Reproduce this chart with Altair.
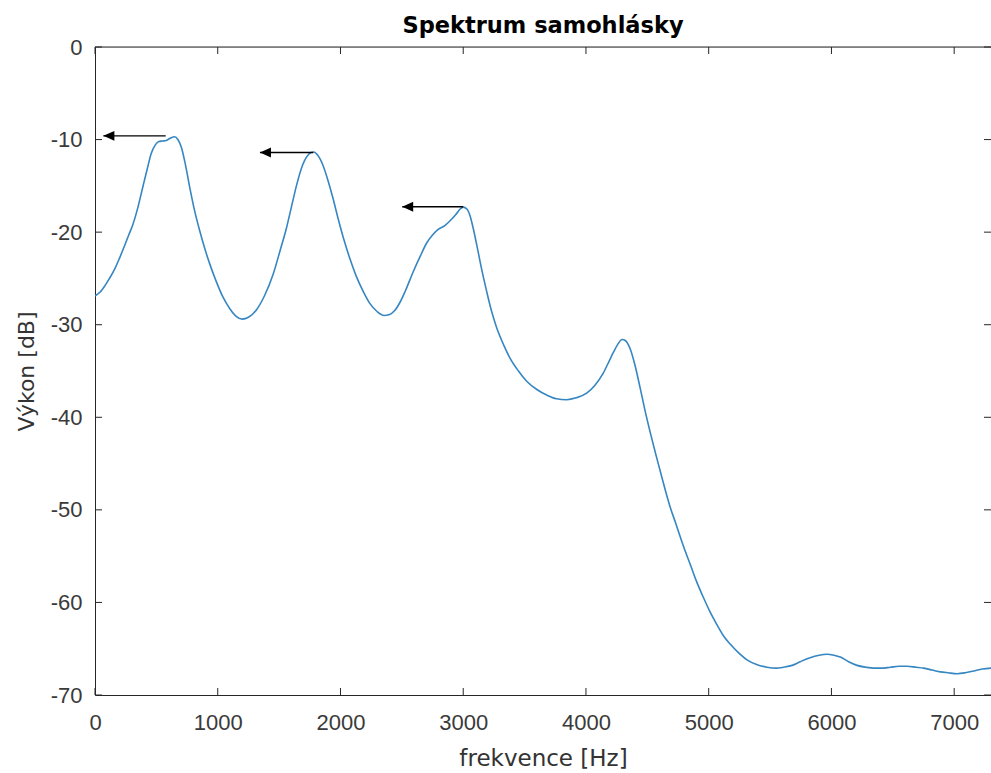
import altair as alt
import pandas as pd

# ---- data ----
freq = [0, 40, 80, 118, 160, 200, 240, 275, 308, 350, 390, 425, 458, 490, 520, 550, 580, 620, 648, 675, 703, 735,
        771, 810, 852, 895, 934, 990, 1042, 1100, 1150, 1200, 1250, 1315, 1380, 1450, 1510, 1559, 1600,
        1641, 1690, 1723, 1760, 1782, 1815, 1858, 1900, 1940, 1980, 2021, 2075, 2130, 2185, 2239, 2300,
        2355, 2400, 2440, 2484, 2530, 2592, 2650, 2701, 2750, 2796, 2850, 2891, 2940, 2975, 3000, 3030,
        3055, 3080, 3109, 3150, 3191, 3230, 3272, 3330, 3381, 3450, 3517, 3600, 3680, 3760, 3843, 3920,
        4006, 4070, 4142, 4190, 4223, 4260, 4295, 4320, 4360, 4400, 4441, 4480, 4523, 4565, 4605, 4645,
        4686, 4730, 4768, 4810, 4850, 4900, 4958, 5010, 5067, 5120, 5175, 5240, 5312, 5390, 5475, 5550,
        5610, 5680, 5746, 5820, 5900, 5964, 6020, 6073, 6140, 6209, 6280, 6344, 6410, 6480, 6550, 6617,
        6690, 6752, 6820, 6888, 6950, 7024, 7090, 7160, 7230, 7300]
power = [-26.9, -26.5, -25.8, -25.0, -24.0, -22.8, -21.5, -20.3, -19.2, -17.3, -15.1, -13.2, -11.5, -10.6, -10.2, -10.15,
         -10.1, -9.8, -9.7, -10.0, -10.8, -12.6, -15.1, -17.6, -19.8, -21.8, -23.4, -25.4, -27.0, -28.3,
         -29.1, -29.4, -29.2, -28.4, -26.9, -24.6, -21.9, -19.6, -17.3, -15.0, -12.8, -11.9, -11.4, -11.35,
         -11.7, -12.8, -14.5, -16.4, -18.5, -20.5, -22.8, -24.8, -26.4, -27.7, -28.6, -29.0, -28.9, -28.5,
         -27.6, -26.3, -24.3, -22.6, -21.2, -20.3, -19.7, -19.3, -18.8, -18.1, -17.5, -17.3, -17.5, -18.2,
         -19.5, -21.3, -24.0, -26.4, -28.5, -30.3, -32.2, -33.6, -35.0, -36.1, -37.0, -37.6, -38.0, -38.1,
         -37.9, -37.4, -36.6, -35.2, -33.9, -33.0, -32.1, -31.6, -31.7, -32.6, -34.4, -36.8, -39.2, -41.6,
         -43.8, -45.8, -47.8, -49.7, -51.4, -52.9, -54.5, -55.9, -57.7, -59.5, -61.0, -62.4, -63.6, -64.5,
         -65.4, -66.2, -66.7, -67.0, -67.1, -67.0, -66.8, -66.4, -66.0, -65.7, -65.6, -65.7, -65.9, -66.4,
         -66.8, -67.0, -67.1, -67.1, -67.0, -66.9, -66.9, -67.0, -67.1, -67.3, -67.5, -67.6, -67.7, -67.6,
         -67.4, -67.2, -67.1]

x_ticks = [0, 1000, 2000, 3000, 4000, 5000, 6000, 7000]
y_ticks = [-70, -60, -50, -40, -30, -20, -10, 0]

arrow_start = [576, 1778, 3000]
arrow_end = [68, 1344, 2503]
arrow_level = [-9.6, -11.4, -17.25]

chart_title = ["Spektrum samohlásky"]

# ---- layout ----
W, H = 896, 648
AX = "#262626"
LBL = "#3a3a3a"
TICK_LEN = 7

df = pd.DataFrame({"f": freq, "p": power})
xt = pd.DataFrame({"f": x_ticks})
yt = pd.DataFrame({"p": y_ticks})
arrows = pd.DataFrame({"f": arrow_start, "f_end": arrow_end, "p": arrow_level})

xs = alt.Scale(domain=[0, 7300], nice=False, zero=False)
ys = alt.Scale(domain=[-70, 0], nice=False, zero=False)

hyphen_label = "datum.value < 0 ? '-' + abs(datum.value) : '' + datum.value"

x_axis = alt.Axis(
    values=x_ticks, grid=False, ticks=False,
    domain=True, domainColor=AX, domainWidth=1,
    labelFont="Liberation Sans", labelFontSize=22, labelColor=LBL, labelPadding=17,
    labelFlush=False, labelOverlap=False, labelExpr=hyphen_label,
    titleFont="DejaVu Sans", titleFontSize=23, titleFontWeight="normal", titleColor="#333333",
    titleY=70, titleBaseline="alphabetic")
y_axis = alt.Axis(
    values=y_ticks, grid=False, ticks=False,
    domain=True, domainColor=AX, domainWidth=1,
    labelFont="Liberation Sans", labelFontSize=22, labelColor=LBL, labelPadding=13,
    labelFlush=False, labelOverlap=False, labelExpr=hyphen_label,
    titleFont="DejaVu Sans", titleFontSize=22, titleFontWeight="normal", titleColor="#333333",
    titleX=-62, titleY=H / 2, titleAngle=-90, titleAlign="center", titleBaseline="alphabetic")

X = alt.X("f:Q", scale=xs, axis=x_axis, title="frekvence [Hz]")
Y = alt.Y("p:Q", scale=ys, axis=y_axis, title="Výkon [dB]")

line = alt.Chart(df).mark_line(color="#3686c2", strokeWidth=1.6, clip=True,
                               interpolate="monotone").encode(x=X, y=Y)

top_line = alt.Chart(pd.DataFrame({"d": [0]})).mark_rule(color=AX, strokeWidth=1).encode(
    x=alt.value(0), x2=alt.value(W), y=alt.value(0))

bottom_ticks = alt.Chart(xt).mark_rule(color=AX, strokeWidth=1).encode(
    x=X, y=alt.value(H), y2=alt.value(H - TICK_LEN))
top_ticks = alt.Chart(xt).mark_rule(color=AX, strokeWidth=1).encode(
    x=X, y=alt.value(0), y2=alt.value(TICK_LEN))
left_ticks = alt.Chart(yt).mark_rule(color=AX, strokeWidth=1).encode(
    y=Y, x=alt.value(0), x2=alt.value(TICK_LEN))
right_ticks = alt.Chart(yt).mark_rule(color=AX, strokeWidth=1).encode(
    y=Y, x=alt.value(W - TICK_LEN), x2=alt.value(W))

arrow_shafts = alt.Chart(arrows).mark_rule(color="black", strokeWidth=1.4).encode(
    x=X, x2="f_end:Q", y=Y)
arrow_heads = alt.Chart(arrows).mark_point(
    shape="M0,0L2,-0.9L2,0.9Z", filled=True, color="black", opacity=1, size=121).encode(
    x=alt.X("f_end:Q", scale=xs, axis=x_axis, title="frekvence [Hz]"), y=Y)

title_text = alt.Chart(pd.DataFrame({"t": chart_title})).mark_text(
    font="DejaVu Sans", fontSize=22.5, fontWeight="bold", color="#000000",
    align="center", baseline="alphabetic").encode(
    text="t:N", x=alt.value(W / 2), y=alt.value(-14))

chart = alt.layer(
    line, top_line, bottom_ticks, top_ticks, left_ticks, right_ticks, arrow_shafts, arrow_heads, title_text
).properties(
    width=W, height=H,
    autosize=alt.AutoSizeParams(type="none"),
    padding={"left": 95, "top": 47, "right": 0, "bottom": 78},
).configure_view(strokeWidth=0, stroke="transparent").configure(background="white")

chart.save("out.html", embed_options={"renderer": "svg", "actions": False})
